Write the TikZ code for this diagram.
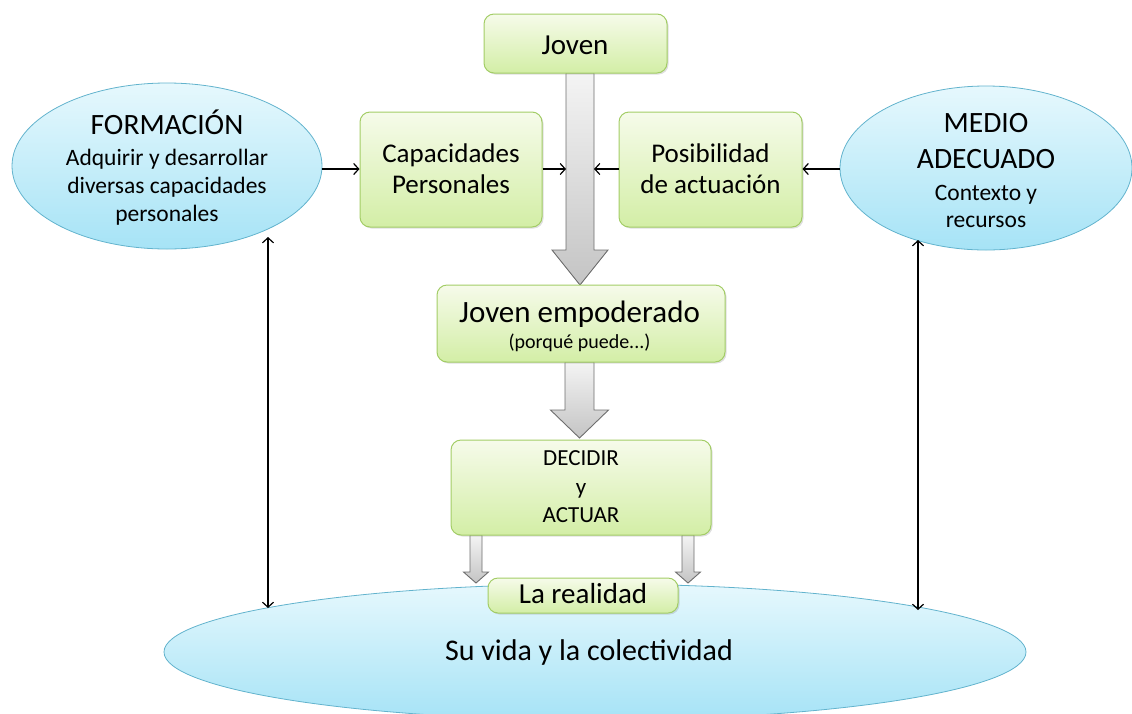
\documentclass[tikz,border=0pt]{standalone}
\usepackage{fontspec}
\setmainfont{Carlito}
\usetikzlibrary{arrows.meta,shapes.geometric,calc,shadows}
\definecolor{eltop}{HTML}{E6F8FD}
\definecolor{elbot}{HTML}{A6E3F6}
\definecolor{elline}{HTML}{62B3CD}
\definecolor{grtop}{HTML}{F6FBEA}
\definecolor{grbot}{HTML}{D3EEA6}
\definecolor{grline}{HTML}{A3CD66}
\definecolor{artop}{HTML}{F4F4F4}
\definecolor{arbot}{HTML}{C4C4C4}
\definecolor{arline}{HTML}{6E6E6E}
\newcommand{\grayarrow}[6]{%
  \draw[grayarr] ($(#1-#4,#2)$) -- ($(#1+#4,#2)$) -- ($(#1+#4,#3)$) -- ($(#1+#5,#3)$)
    -- ($(#1,#6)$) -- ($(#1-#5,#3)$) -- ($(#1-#4,#3)$) -- cycle;}
\begin{document}
\begin{tikzpicture}[x=1pt,y=-1pt,
  greenbox/.style={draw=grline, line width=1pt, rounded corners=10pt, top color=grtop, bottom color=grbot,
    inner sep=0pt, align=center, drop shadow={shadow xshift=1.5pt, shadow yshift=-1.5pt, opacity=0.25}},
  blueell/.style={ellipse, draw=elline, line width=0.8pt, top color=eltop, bottom color=elbot,
    inner sep=0pt, align=center},
  txt/.style={inner sep=0pt, align=center},
  grayarr/.style={draw=arline, line width=0.9pt, top color=artop, bottom color=arbot, line join=miter},
  thinarr/.style={draw=black, line width=1.2pt, -{Straight Barb[length=5pt,width=11pt]}},
  dblarr/.style={draw=black, line width=1.2pt, {Straight Barb[length=5pt,width=11pt]}-{Straight Barb[length=5pt,width=11pt]}},
]
\useasboundingbox (0,0) rectangle (1132,713);

% bottom ellipse
\node[blueell, minimum width=862pt, minimum height=136pt] (vida) at (595,652) {};
\node[txt, anchor=base, font=\fontsize{30}{34}\selectfont] (vidatxt) at (589,660) {Su vida y la colectividad};

% side ellipses
\node[blueell, minimum width=310pt, minimum height=166pt] (form) at (167,166) {};
\node[txt, font=\fontsize{23.5}{28}\selectfont] (formtxt) at (167,168)
  {{\fontsize{29.5}{32}\selectfont FORMACIÓN}\\[3pt]
   Adquirir y desarrollar\\ diversas capacidades\\ personales};
\node[blueell, minimum width=292pt, minimum height=164pt] (medio) at (986,168) {};
\node[txt, font=\fontsize{23.5}{27}\selectfont] (mediotxt) at (986,170.5)
  {{\fontsize{29.5}{30}\selectfont MEDIO}\\[9pt]
   {\fontsize{29.5}{30}\selectfont ADECUADO}\\[5pt]
   Contexto y\\ recursos};

% gray block arrows
\grayarrow{580}{73}{250}{14}{28}{285}
\grayarrow{579.5}{362}{410}{14.5}{29}{438}
\grayarrow{476}{535}{572}{6}{12.5}{583}
\grayarrow{688}{535}{572}{6}{12.5}{583}

% green boxes
\node[greenbox, minimum width=183pt, minimum height=59pt] (joven) at (575.5,43.5) {};
\node[txt, anchor=base, font=\fontsize{29}{32}\selectfont] (joventxt) at (575,54) {Joven};

\node[greenbox, minimum width=182pt, minimum height=115pt] (cap) at (451,169.5) {};
\node[txt, font=\fontsize{27}{31}\selectfont] (captxt) at (451,169) {Capacidades\\Personales};

\node[greenbox, minimum width=183pt, minimum height=115pt] (pos) at (710.5,169.5) {};
\node[txt, font=\fontsize{27}{31}\selectfont] (postxt) at (710.5,169) {Posibilidad\\de actuación};

\node[greenbox, minimum width=288pt, minimum height=77pt] (emp) at (581,323.5) {};
\node[txt, anchor=base, font=\fontsize{31}{34}\selectfont] (emptxt) at (579.5,322) {Joven empoderado};
\node[txt, anchor=base, font=\fontsize{20}{22}\selectfont] (empsub) at (579.5,348) {(porqué puede...)};

\node[greenbox, minimum width=260pt, minimum height=95pt] (dec) at (581,487.5) {};
\node[txt, font=\fontsize{23}{28.5}\selectfont] (dectxt) at (581,487) {DECIDIR\\y\\ACTUAR};

\node[greenbox, minimum width=190pt, minimum height=35pt] (real) at (583,595.5) {};
\node[txt, anchor=base, font=\fontsize{29}{32}\selectfont] (realtxt) at (583,603) {La realidad};

% thin connectors
\coordinate (shaftL) at (566,169);
\coordinate (shaftR) at (594,169);
\draw[thinarr] (form.east |- 0,169) -- (cap.west |- 0,169);
\draw[thinarr] (cap.east |- shaftL) -- (shaftL);
\draw[thinarr] (pos.west |- shaftR) -- (shaftR);
\draw[thinarr] (medio.west |- 0,169) -- (pos.east |- 0,169);

\coordinate (lt) at (268,237);
\coordinate (lb) at (268,608);
\coordinate (rt) at (918,240);
\coordinate (rb) at (918,610);
\draw[dblarr] (lt) -- (lb);
\draw[dblarr] (rt) -- (rb);
\end{tikzpicture}
\end{document}
